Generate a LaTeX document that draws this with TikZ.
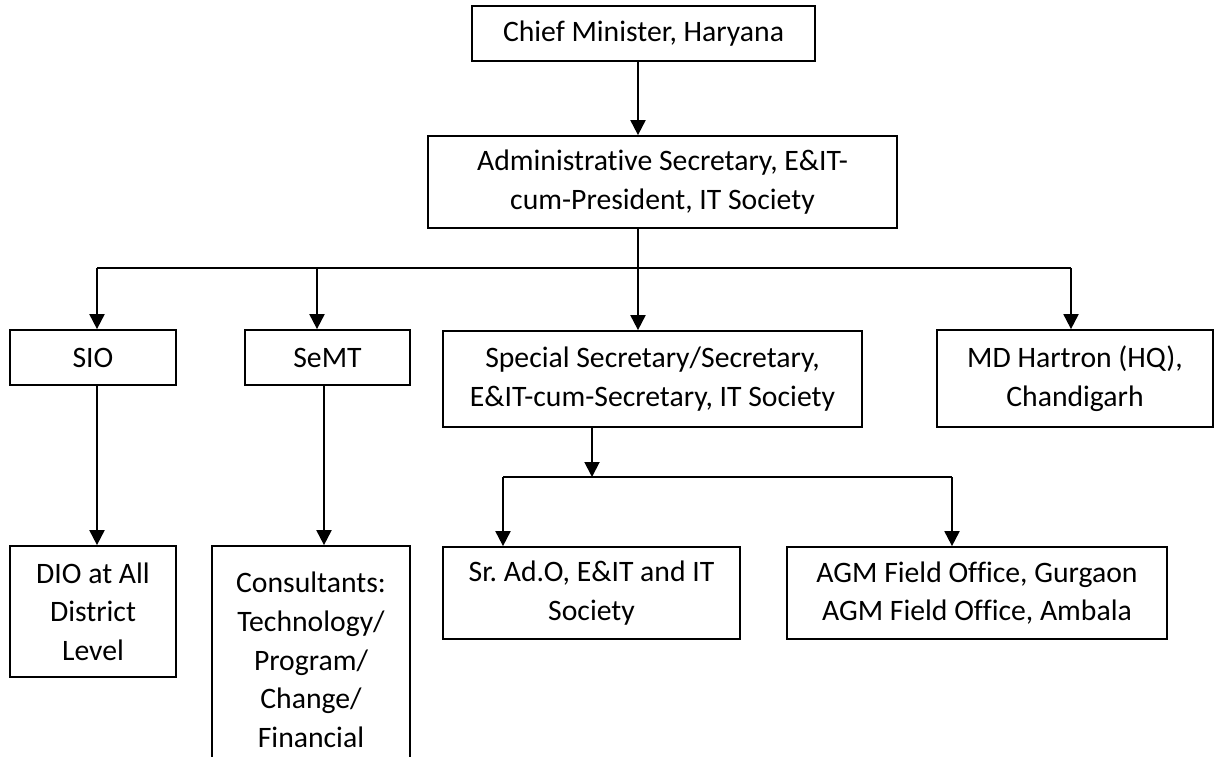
\documentclass[tikz,border=0pt]{standalone}
\usepackage{fontspec}
\setmainfont{Carlito}[Ligatures={NoCommon}]
\usetikzlibrary{arrows.meta}
\frenchspacing
\begin{document}
\begin{tikzpicture}[x=0.02cm, y=-0.02cm,
        orgbox/.style={draw, line width=1pt, align=center, inner sep=0pt, font=\fontsize{16.9}{22}\selectfont},
        link/.style={line width=1.1pt},
        arr/.style={link, -{Triangle[width=0.3cm, length=0.3cm]}}]
    \useasboundingbox (0,0) rectangle (1214,757);
    \clip (0,0) rectangle (1214,757);
    \node[orgbox, minimum width=6.86cm, minimum height=1.10cm] (cm) at (643.5,33.5) {Chief Minister, Haryana};
    \node[orgbox, minimum width=9.38cm, minimum height=1.84cm] (admin) at (662.5,182) {Administrative Secretary, E\&IT-\\cum-President, IT Society};
    \node[orgbox, minimum width=3.32cm, minimum height=1.10cm] (sio) at (93,357.5) {SIO};
    \node[orgbox, minimum width=3.30cm, minimum height=1.10cm] (semt) at (327.5,357.5) {SeMT};
    \node[orgbox, minimum width=8.38cm, minimum height=1.92cm] (special) at (652.5,379) {Special Secretary/Secretary,\\E\&IT-cum-Secretary, IT Society};
    \node[orgbox, minimum width=5.52cm, minimum height=1.94cm] (md) at (1075,378.5) {MD Hartron (HQ),\\Chandigarh};
    \node[orgbox, minimum width=3.32cm, minimum height=2.62cm] (dio) at (93,611.5) {DIO at All\\District\\Level};
    \node[orgbox, minimum width=3.96cm, minimum height=4.56cm] (cons) at (311,660) {Consultants:\\Technology/\\Program/\\Change/\\Financial};
    \node[orgbox, minimum width=5.94cm, minimum height=1.84cm] (sr) at (591.5,593) {Sr. Ad.O, E\&IT and IT\\Society};
    \node[orgbox, minimum width=7.60cm, minimum height=1.84cm] (agm) at (977,593) {AGM Field Office, Gurgaon\\AGM Field Office, Ambala};
    \coordinate (trunk) at (638,268);
    \coordinate (b1) at (97,268);
    \coordinate (b2) at (317,268);
    \coordinate (b4) at (1071,268);
    \coordinate (c2) at (324,460);
    \coordinate (sub) at (592,477);
    \coordinate (s1) at (503,477);
    \coordinate (s2) at (952,477);
    \draw[arr] (cm.south -| trunk) -- (admin.north -| trunk);
    \draw[arr] (admin.south -| trunk) -- (special.north -| trunk);
    \draw[link] (b1) -- (b4);
    \foreach \b/\n in {b1/sio, b2/semt, b4/md}{
        \draw[arr] (\b) -- (\n.north -| \b);
    }
    \draw[arr] (sio.south -| b1) -- (dio.north -| b1);
    \draw[arr] (semt.south -| c2) -- (cons.north -| c2);
    \draw[arr] (special.south -| sub) -- (sub);
    \draw[link] (s1) -- (s2);
    \foreach \s/\n in {s1/sr, s2/agm}{
        \draw[arr] (\s) -- (\n.north -| \s);
    }
\end{tikzpicture}
\end{document}
